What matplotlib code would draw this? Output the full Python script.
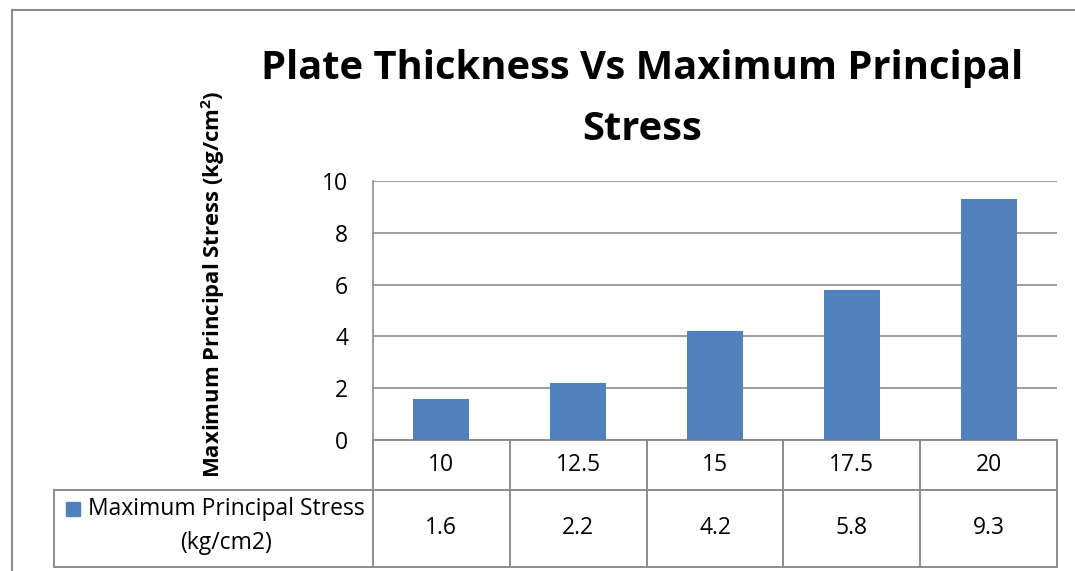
import matplotlib.pyplot as plt
from matplotlib.transforms import blended_transform_factory
from matplotlib.patches import Rectangle

# data
thickness = ['10', '12.5', '15', '17.5', '20']
stress = [1.6, 2.2, 4.2, 5.8, 9.3]
series_name = ['Maximum Principal Stress', '(kg/cm2)']
title = 'Plate Thickness Vs Maximum Principal\nStress'
ylabel = 'Maximum Principal Stress (kg/cm$^\\mathregular{2}$)'
yticks = [0, 2, 4, 6, 8, 10]

W, H = 1075, 571
bar_color = '#4F81BD'
grid_color = '#8c8c8c'
font = ['Open Sans', 'DejaVu Sans']
plt.rcParams['font.family'] = font
fs = 16.5


def fx(px):
    return px / W


def fy(py):
    return 1 - py / H


fig = plt.figure(figsize=(W / 100, H / 100), dpi=100)
ax = fig.add_axes([fx(373), fy(440), fx(1057) - fx(373), fy(181) - fy(440)])

x = range(len(thickness))
ax.bar(x, stress, width=0.41, color=bar_color, zorder=3)
ax.set_xlim(-0.5, len(thickness) - 0.5)
ax.set_ylim(0, 10)
ax.set_yticks(yticks)
ax.set_yticklabels([str(t) for t in yticks], fontsize=fs)
ax.tick_params(axis='y', length=0, pad=18)
ax.set_xticks([])
ax.yaxis.grid(True, color=grid_color, linewidth=1.2, zorder=0)
for s in ['top', 'right', 'bottom']:
    ax.spines[s].set_visible(False)
ax.spines['left'].set_color(grid_color)
ax.spines['left'].set_linewidth(1.2)

# title and y label
fig.text(fx(642), fy(99), title, ha='center', va='center', fontsize=28.7,
         fontweight='bold', linespacing=1.72)
fig.text(fx(213), fy(284), ylabel, ha='center', va='center', rotation=90,
         fontsize=15.9, fontweight='bold')

# data table below the plot
tr = blended_transform_factory(ax.transData, fig.transFigure)
y_top, y_mid, y_bot = fy(440), fy(490), fy(567)
lw = 1.4
for i in range(len(thickness) + 1):
    ax.plot([i - 0.5, i - 0.5], [y_top, y_bot], transform=tr, color=grid_color,
            lw=lw, clip_on=False)
ax.plot([-0.5, len(thickness) - 0.5], [y_top, y_top], transform=tr,
        color=grid_color, lw=lw, clip_on=False)
fig.add_artist(plt.Line2D([fx(54), fx(1057)], [y_mid, y_mid], color=grid_color, lw=lw))
fig.add_artist(plt.Line2D([fx(54), fx(1057)], [y_bot, y_bot], color=grid_color, lw=lw))
fig.add_artist(plt.Line2D([fx(54), fx(54)], [y_mid, y_bot], color=grid_color, lw=lw))

for i, (t, v) in enumerate(zip(thickness, stress)):
    ax.text(i, (y_top + y_mid) / 2, t, transform=tr, ha='center', va='center',
            fontsize=fs)
    ax.text(i, (y_mid + y_bot) / 2, str(v), transform=tr, ha='center',
            va='center', fontsize=fs)

fig.add_artist(Rectangle((fx(66), fy(516)), fx(14), fy(502) - fy(516),
                         color=bar_color, transform=fig.transFigure))
fig.text(fx(226), fy(509), series_name[0], ha='center', va='center', fontsize=fs)
fig.text(fx(226), fy(543), series_name[1], ha='center', va='center', fontsize=fs)

# outer chart border
fig.add_artist(plt.Line2D([fx(12), fx(12)], [fy(10), 0], color=grid_color, lw=1.5))
fig.add_artist(plt.Line2D([fx(12), 1], [fy(10), fy(10)], color=grid_color, lw=1.5))

fig.savefig('out.png', dpi=100)
